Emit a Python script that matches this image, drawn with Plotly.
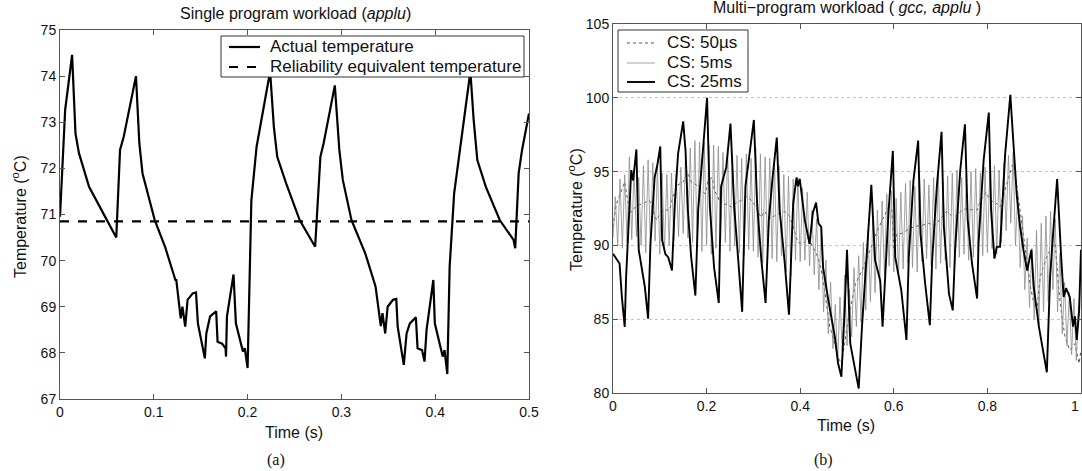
import plotly.graph_objects as go

W, H = 1082, 471

# ---------------- Left panel: single program workload (applu) ----------------
actual_t = [0.0, 0.0037, 0.0055, 0.0129, 0.0165, 0.0202, 0.031, 0.046, 0.0588, 0.060,
            0.064, 0.068, 0.081, 0.0846, 0.088, 0.101, 0.112, 0.123, 0.124, 0.1287,
            0.1305, 0.1335, 0.136, 0.1415, 0.145, 0.147, 0.1544, 0.156, 0.160, 0.1665,
            0.168, 0.1728, 0.1765, 0.177, 0.178, 0.185, 0.1875, 0.193, 0.195, 0.197,
            0.200, 0.204, 0.2096, 0.224, 0.228, 0.2316, 0.241, 0.2555, 0.270, 0.272,
            0.2776, 0.281, 0.293, 0.2978, 0.3015, 0.3107, 0.3254, 0.3364, 0.342, 0.3438,
            0.3467, 0.3493, 0.355, 0.3585, 0.360, 0.3665, 0.3695, 0.373, 0.3794, 0.3812,
            0.386, 0.3886, 0.3908, 0.398, 0.3996, 0.4044, 0.408, 0.410, 0.4129, 0.4154,
            0.4202, 0.4375, 0.441, 0.4449, 0.454, 0.4688, 0.4835, 0.4853, 0.489, 0.4926, 0.500]
actual_T = [70.95, 72.54, 73.27, 74.46, 72.76, 72.33, 71.60, 71.03, 70.52, 70.50,
            72.40, 72.69, 74.00, 72.54, 71.89, 70.88, 70.30, 69.58, 69.58, 68.75,
            69.00, 68.57, 69.15, 69.29, 69.31, 68.64, 67.88, 68.42, 68.79, 68.90,
            68.24, 68.20, 68.10, 67.92, 68.79, 69.70, 68.64, 68.20, 68.03, 68.10,
            67.67, 71.30, 72.47, 74.10, 72.90, 72.25, 71.68, 70.88, 70.38, 70.30,
            72.25, 72.54, 73.80, 72.40, 71.75, 70.88, 70.16, 69.44, 68.58, 68.86,
            68.42, 69.00, 69.15, 69.17, 68.57, 67.74, 68.42, 68.64, 68.77, 68.10,
            68.06, 67.81, 68.50, 69.58, 68.64, 68.21, 67.92, 68.06, 67.54, 69.87,
            71.46, 74.10, 73.05, 72.18, 71.60, 70.88, 70.45, 70.27, 71.90, 72.40, 73.19]
equiv_t = [0.0, 0.5]
equiv_T = [70.85, 70.85]

# ---------------- Right panel: multi-program workload (gcc, applu) ----------------
cs25_t = [0.0, 0.014, 0.019, 0.025, 0.028, 0.036, 0.039, 0.043, 0.050, 0.055,
          0.068, 0.075, 0.080, 0.089, 0.095, 0.101, 0.105, 0.112, 0.118, 0.126,
          0.132, 0.139, 0.150, 0.155, 0.160, 0.167, 0.176, 0.182, 0.192, 0.201,
          0.207, 0.216, 0.226, 0.231, 0.242, 0.251, 0.259, 0.267, 0.276, 0.283,
          0.292, 0.301, 0.308, 0.317, 0.326, 0.333, 0.341, 0.350, 0.356, 0.367,
          0.376, 0.385, 0.392, 0.395, 0.399, 0.410, 0.420, 0.427, 0.434, 0.439,
          0.445, 0.449, 0.459, 0.474, 0.481, 0.488, 0.495, 0.500, 0.507, 0.525,
          0.532, 0.543, 0.552, 0.560, 0.571, 0.576, 0.582, 0.589, 0.598, 0.603,
          0.616, 0.627, 0.632, 0.642, 0.652, 0.657, 0.667, 0.677, 0.682, 0.692,
          0.702, 0.707, 0.718, 0.726, 0.731, 0.742, 0.752, 0.758, 0.767, 0.778,
          0.781, 0.792, 0.803, 0.808, 0.815, 0.820, 0.827, 0.838, 0.849, 0.856,
          0.863, 0.870, 0.877, 0.885, 0.894, 0.899, 0.910, 0.927, 0.934, 0.942,
          0.949, 0.958, 0.963, 0.968, 0.976, 0.983, 0.987, 0.991, 0.996, 1.000]
cs25_T = [89.44, 88.77, 86.50, 84.48, 87.86, 92.60, 95.10, 94.40, 96.50, 89.70,
          87.20, 85.04, 90.10, 94.60, 95.50, 96.70, 90.35, 89.40, 89.20, 88.30,
          92.80, 96.20, 98.40, 96.40, 92.40, 89.20, 86.60, 92.40, 96.40, 100.0,
          92.60, 88.50, 86.10, 94.00, 95.30, 98.25, 92.60, 89.00, 85.50, 94.00,
          96.40, 98.50, 92.80, 89.00, 86.10, 91.70, 94.60, 97.30, 92.40, 88.80,
          85.30, 92.80, 94.60, 94.00, 94.50, 91.70, 90.10, 92.20, 92.90, 91.50,
          91.25, 88.50, 86.50, 83.80, 82.00, 81.10, 85.60, 89.70, 83.35, 80.30,
          84.50, 90.10, 94.10, 89.00, 87.60, 84.50, 88.30, 92.40, 96.40, 89.20,
          86.96, 83.60, 89.20, 94.40, 97.10, 90.80, 87.40, 84.60, 89.00, 94.00,
          97.70, 91.25, 86.70, 85.60, 89.70, 95.10, 98.20, 91.70, 88.80, 86.40,
          90.10, 95.80, 99.00, 92.40, 89.10, 89.90, 89.90, 96.20, 100.2, 96.40,
          93.30, 91.25, 89.70, 88.30, 89.70, 87.20, 84.50, 81.40, 87.90, 91.50,
          94.50, 89.00, 86.50, 87.10, 86.50, 84.50, 85.20, 83.60, 85.60, 89.70]

cs50us_t = [0.0, 0.007, 0.018, 0.025, 0.028, 0.036, 0.043, 0.050, 0.061, 0.068,
            0.078, 0.085, 0.093, 0.103, 0.114, 0.121, 0.128, 0.139, 0.150, 0.160,
            0.167, 0.178, 0.189, 0.197, 0.203, 0.212, 0.217, 0.224, 0.231, 0.242,
            0.253, 0.264, 0.274, 0.285, 0.296, 0.306, 0.316, 0.324, 0.335, 0.345,
            0.356, 0.367, 0.377, 0.385, 0.395, 0.406, 0.417, 0.427, 0.438, 0.445,
            0.452, 0.463, 0.474, 0.481, 0.488, 0.495, 0.500, 0.518, 0.532, 0.546,
            0.560, 0.575, 0.589, 0.596, 0.600, 0.607, 0.617, 0.632, 0.646, 0.660,
            0.674, 0.688, 0.703, 0.713, 0.724, 0.735, 0.746, 0.757, 0.767, 0.778,
            0.785, 0.797, 0.806, 0.817, 0.827, 0.835, 0.846, 0.854, 0.859, 0.867,
            0.877, 0.885, 0.892, 0.899, 0.906, 0.913, 0.924, 0.934, 0.945, 0.952,
            0.959, 0.966, 0.976, 0.987, 0.996, 1.000]
cs50us_T = [91.25, 92.80, 93.70, 94.30, 93.70, 92.20, 92.40, 92.70, 92.80, 92.90,
            93.05, 92.40, 91.70, 92.30, 92.40, 92.40, 93.30, 94.10, 94.30, 94.90,
            94.30, 94.10, 93.70, 93.50, 94.40, 94.60, 93.70, 93.30, 92.70, 92.80,
            92.60, 92.90, 93.05, 93.30, 93.05, 92.60, 91.90, 92.30, 91.80, 92.00,
            92.20, 92.30, 92.00, 91.25, 90.20, 90.10, 90.50, 89.90, 89.20, 88.30,
            87.00, 84.50, 83.35, 82.40, 82.00, 83.35, 84.50, 87.40, 88.30, 89.40,
            90.60, 91.70, 92.60, 92.40, 89.70, 90.80, 90.80, 91.10, 91.30, 91.35,
            91.50, 91.35, 91.90, 92.30, 92.00, 92.00, 92.40, 92.50, 92.40, 92.40,
            93.05, 93.60, 93.05, 92.90, 92.60, 93.50, 94.60, 95.50, 94.90, 93.05,
            90.60, 89.00, 87.20, 86.10, 85.60, 87.90, 89.00, 89.70, 90.10, 87.20,
            85.20, 83.80, 82.90, 83.35, 82.00, 82.90]

# CS: 5ms trace - rapid oscillation, read as alternating troughs / peaks (one pair per 10 ms)
cs5_step = 0.005
cs5_trough = [90.5, 90.0, 89.8, 90.2, 90.4, 90.6, 90.0, 89.5, 89.8, 90.3,
              89.4, 89.6, 90.0, 90.3, 90.6, 90.8, 90.5, 90.2, 89.9, 89.6,
              90.0, 89.4, 89.8, 90.4, 90.2, 89.6, 90.0, 89.5, 89.3, 89.7,
              89.6, 89.2, 88.8, 89.4, 89.1, 88.9, 89.3, 88.2, 87.9, 89.0,
              88.9, 89.0, 88.6, 88.0, 87.0, 85.5, 84.0, 83.0, 82.0, 82.8,
              83.2, 83.8, 84.5, 84.8, 85.6, 86.2, 86.8, 87.5, 88.0, 88.6,
              88.2, 88.0, 88.4, 88.8, 88.5, 88.2, 88.9, 89.1, 88.6, 88.4,
              88.8, 89.0, 88.5, 88.7, 89.2, 89.4, 89.0, 89.2, 89.6, 89.3,
              89.5, 89.8, 89.4, 90.2, 91.0, 91.5, 90.0, 88.5, 87.0, 85.8,
              85.0, 84.6, 85.5, 86.2, 87.0, 85.5, 84.0, 83.2, 82.6, 82.2]
cs5_peak = [93.3, 94.5, 94.8, 96.0, 95.1, 94.6, 95.4, 95.8, 95.6, 95.3,
            94.9, 94.8, 94.9, 94.9, 95.3, 96.2, 96.6, 97.1, 97.0, 97.0,
            96.8, 96.8, 96.7, 96.3, 96.5, 96.2, 96.1, 95.9, 96.2, 95.9,
            96.6, 96.2, 96.0, 95.9, 95.7, 95.4, 94.8, 94.7, 94.5, 94.6,
            93.9, 93.6, 92.4, 91.8, 91.3, 89.0, 87.5, 86.0, 86.5, 88.0,
            87.0, 88.5, 89.3, 90.2, 91.0, 91.7, 92.4, 93.0, 93.5, 93.7,
            93.2, 93.6, 94.2, 94.4, 94.0, 94.8, 94.5, 94.1, 94.6, 94.9,
            94.3, 94.7, 94.9, 95.1, 94.6, 94.8, 95.0, 95.2, 94.9, 95.3,
            95.0, 95.4, 95.1, 95.6, 96.1, 96.3, 93.5, 92.0, 90.5, 89.8,
            91.0, 91.5, 92.0, 92.3, 91.8, 89.5, 87.5, 86.8, 86.4, 86.0]

cs5_T = []
for lo, hi in zip(cs5_trough, cs5_peak):
    cs5_T += [lo, hi]
cs5_t = [round(i * cs5_step, 4) for i in range(len(cs5_T))]

left_xticks = [0, 0.1, 0.2, 0.3, 0.4, 0.5]
left_xlabels = ["0", "0.1", "0.2", "0.3", "0.4", "0.5"]
left_yticks = [67, 68, 69, 70, 71, 72, 73, 74, 75]
right_xticks = [0, 0.2, 0.4, 0.6, 0.8, 1.0]
right_xlabels = ["0", "0.2", "0.4", "0.6", "0.8", "1"]
right_yticks = [80, 85, 90, 95, 100, 105]

left_legend_names = ["Actual temperature", "Reliability equivalent temperature"]
right_legend_names = ["CS: 50\u00b5s", "CS: 5ms", "CS: 25ms"]

# ---------------- figure ----------------
FONT = "Liberation Sans, Arial, Helvetica, sans-serif"
SERIF = "Liberation Serif, Times New Roman, serif"
AXC = "#555555"
TXT = "#111111"

def px(x):
    return x / W

def py(y):
    return 1 - y / H

STYLE_ACT = dict(color="black", width=2.2)
STYLE_EQ = dict(color="black", width=2.2, dash="dash")
STYLE_50 = dict(color="#555555", width=1, dash="dot")
STYLE_5 = dict(color="#8c8c8c", width=0.8)
STYLE_25 = dict(color="black", width=1.9)

fig = go.Figure()
fig.add_trace(go.Scatter(x=actual_t, y=actual_T, mode="lines", name=left_legend_names[0],
                         line=STYLE_ACT, xaxis="x", yaxis="y"))
fig.add_trace(go.Scatter(x=equiv_t, y=equiv_T, mode="lines", name=left_legend_names[1],
                         line=STYLE_EQ, xaxis="x", yaxis="y"))
fig.add_trace(go.Scatter(x=cs50us_t, y=cs50us_T, mode="lines", name=right_legend_names[0],
                         line=STYLE_50, xaxis="x2", yaxis="y2"))
fig.add_trace(go.Scatter(x=cs5_t, y=cs5_T, mode="lines", name=right_legend_names[1],
                         line=STYLE_5, xaxis="x2", yaxis="y2"))
fig.add_trace(go.Scatter(x=cs25_t, y=cs25_T, mode="lines", name=right_legend_names[2],
                         line=STYLE_25, xaxis="x2", yaxis="y2"))

axis_common = dict(showline=True, linecolor=AXC, linewidth=1, mirror="ticks", ticks="inside",
                   ticklen=5, tickcolor=AXC, tickfont=dict(family=FONT, size=14, color=TXT),
                   zeroline=False, automargin=False)

fig.update_layout(
    width=W, height=H, margin=dict(l=0, r=0, t=0, b=0, autoexpand=False),
    paper_bgcolor="white", plot_bgcolor="white",
    font=dict(family=FONT, color=TXT),
    showlegend=False,
    xaxis=dict(domain=[px(60), px(529)], range=[0, 0.5], tickvals=left_xticks, ticktext=left_xlabels,
               anchor="y", showgrid=False, **axis_common),
    yaxis=dict(domain=[py(399), py(30)], range=[67, 75], tickvals=left_yticks, anchor="x",
               showgrid=False, **axis_common),
    xaxis2=dict(domain=[px(613), px(1081)], range=[0, 1], tickvals=right_xticks, ticktext=right_xlabels,
                anchor="y2", showgrid=False, **axis_common),
    yaxis2=dict(domain=[py(393), py(24)], range=[80, 105], tickvals=right_yticks, anchor="x2",
                showgrid=True, gridcolor="#c4c4c4", griddash="dot", gridwidth=1, **axis_common),
)

# ---- hand-drawn legends (box, line samples, labels) ----
shapes = []
def box(x0, y0, x1, y1):
    shapes.append(dict(type="rect", xref="paper", yref="paper", x0=px(x0), x1=px(x1), y0=py(y1), y1=py(y0),
                       line=dict(color="#333333", width=1), fillcolor="white", layer="above"))
def sample(x0, x1, y, style):
    shapes.append(dict(type="line", xref="paper", yref="paper", x0=px(x0), x1=px(x1), y0=py(y), y1=py(y),
                       line=style, layer="above"))

box(221, 36, 524, 77)
sample(229, 260, 47, STYLE_ACT)
sample(229, 260, 67, STYLE_EQ)
box(618, 30, 748, 92)
sample(627, 655, 43, STYLE_50)
sample(627, 655, 63, STYLE_5)
sample(627, 655, 82, STYLE_25)
fig.update_layout(shapes=shapes)

ann = [
    dict(x=268, y=47, text=left_legend_names[0], size=17, fam=FONT, angle=0, xa="left"),
    dict(x=268, y=67, text=left_legend_names[1], size=17, fam=FONT, angle=0, xa="left"),
    dict(x=665, y=43, text=right_legend_names[0], size=17, fam=FONT, angle=0, xa="left"),
    dict(x=665, y=63, text=right_legend_names[1], size=17, fam=FONT, angle=0, xa="left"),
    dict(x=665, y=82, text=right_legend_names[2], size=17, fam=FONT, angle=0, xa="left"),
    dict(x=295, y=14, text="Single program workload (<i>applu</i>)", size=16, fam=FONT, angle=0, xa="center"),
    dict(x=847, y=8, text="Multi\u2212program workload ( <i>gcc, applu</i> )", size=16, fam=FONT, angle=0, xa="center"),
    dict(x=294, y=432, text="Time (s)", size=16, fam=FONT, angle=0, xa="center"),
    dict(x=846, y=425, text="Time (s)", size=16, fam=FONT, angle=0, xa="center"),
    dict(x=19, y=217, text="Temperature (<sup>o</sup>C)", size=16, fam=FONT, angle=-90, xa="center"),
    dict(x=575, y=210, text="Temperature (<sup>o</sup>C)", size=16, fam=FONT, angle=-90, xa="center"),
    dict(x=276, y=460, text="(a)", size=16, fam=SERIF, angle=0, xa="center"),
    dict(x=823, y=460, text="(b)", size=16, fam=SERIF, angle=0, xa="center"),
    # last x tick label of the right panel, kept just inside the page edge
    dict(x=1081, y=406, text=right_xlabels[-1], size=14, fam=FONT, angle=0, xa="right"),
]
for a in ann:
    fig.add_annotation(x=px(a["x"]), y=py(a["y"]), xref="paper", yref="paper", text=a["text"],
                       showarrow=False, xanchor=a["xa"], yanchor="middle", textangle=a["angle"],
                       font=dict(family=a["fam"], size=a["size"], color=TXT))

fig.write_html("out.html")
